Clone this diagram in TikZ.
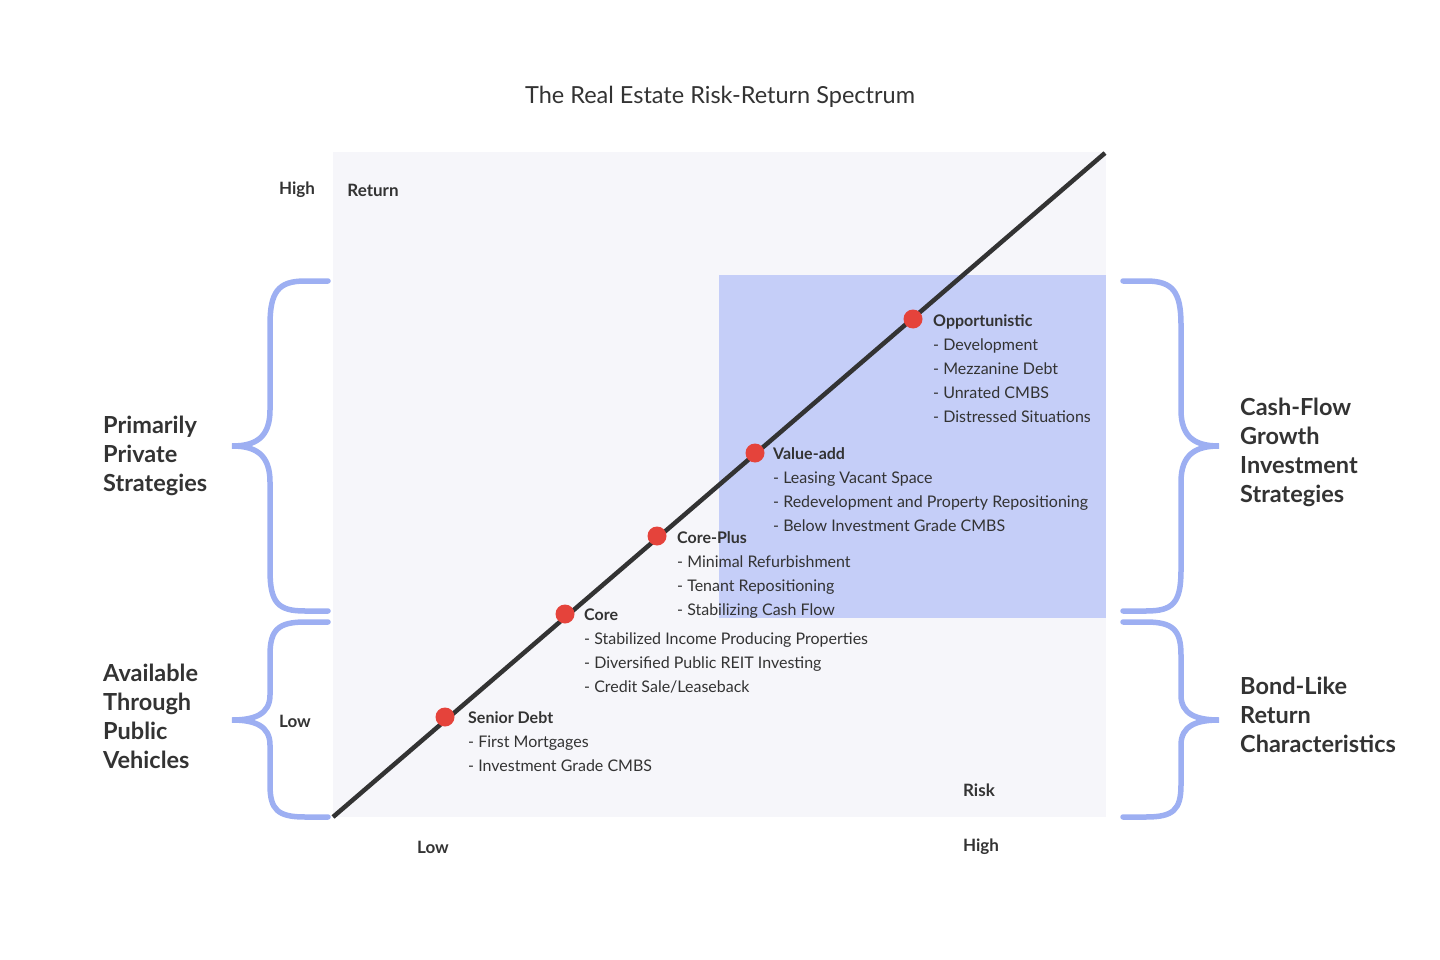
\documentclass[tikz,border=0pt]{standalone}
\usepackage{fontspec}
\setmainfont{Lato}
\definecolor{bgc}{HTML}{F6F6FA}
\definecolor{blk}{HTML}{C5CEF8}
\definecolor{brc}{HTML}{9DAFF2}
\definecolor{txt}{HTML}{333333}
\definecolor{dotc}{HTML}{E5433B}
\tikzset{
 dot/.style={circle,fill=dotc,minimum size=19pt,inner sep=0},
 lst/.style={anchor=north west,align=left,inner sep=0,font=\fontsize{16}{24}\selectfont,text=txt},
 ax/.style={inner sep=0,font=\fontsize{17}{20}\selectfont\bfseries,text=txt},
 side/.style={anchor=north west,align=left,inner sep=0,font=\fontsize{23.5}{29}\selectfont\bfseries,text=txt},
 brace/.style={draw=brc,line width=5.5pt,line cap=round}
}
\begin{document}
\begin{tikzpicture}[x=1pt,y=-1pt]
\useasboundingbox (0,0) rectangle (1440,960);
\node[inner sep=0,font=\fontsize{23.5}{26}\selectfont,text=txt] (title) at (720,97) {The Real Estate Risk-Return Spectrum};
\fill[bgc] (333,152) rectangle (1106,817);
\fill[blk] (719,275) rectangle (1106,618);
\coordinate (s) at (333,817);
\coordinate (e) at (1105,153);
\draw[txt,line width=4.5pt] (s) -- (e);
\node[dot] (d1) at (445,717) {};
\node[dot] (d2) at (565,614) {};
\node[dot] (d3) at (657,536) {};
\node[dot] (d4) at (755,453) {};
\node[dot] (d5) at (913,319) {};
\node[lst] (l1) at (468,711) {\textbf{Senior Debt}\\- First Mortgages\\- Investment Grade CMBS};
\node[lst] (l2) at (584,609) {\textbf{Core}\\- Stabilized Income Producing Properties\\- Diversified Public REIT Investing\\- Credit Sale/Leaseback};
\node[lst] (l3) at (677,531) {\textbf{Core-Plus}\\- Minimal Refurbishment\\- Tenant Repositioning\\- Stabilizing Cash Flow};
\node[lst] (l4) at (773,447) {\textbf{Value-add}\\- Leasing Vacant Space\\- Redevelopment and Property Repositioning\\- Below Investment Grade CMBS};
\node[lst] (l5) at (933,314) {\textbf{Opportunistic}\\- Development\\- Mezzanine Debt\\- Unrated CMBS\\- Distressed Situations};
\node[ax] (a1) at (297,190) {High};
\node[ax] (a2) at (373,190) {Return};
\node[ax] (a3) at (295,721) {Low};
\node[ax] (a4) at (433,847) {Low};
\node[ax] (a5) at (981,847) {High};
\node[ax] (a6) at (979,790) {Risk};
% left braces
\draw[brace] (328,281) -- (305,281) .. controls (278,281) and (270,292) .. (270,325) -- (270,410) .. controls (270,438) and (255,446) .. (232,446) .. controls (255,446) and (270,454) .. (270,482) -- (270,570) .. controls (270,603) and (278,611) .. (305,611) -- (328,611);
\draw[brace] (328,622) -- (305,622) .. controls (278,622) and (270,630) .. (270,655) -- (270,695) .. controls (270,714) and (255,720) .. (232,720) .. controls (255,720) and (270,726) .. (270,745) -- (270,785) .. controls (270,810) and (278,817) .. (305,817) -- (328,817);
% right braces
\draw[brace] (1123,281) -- (1146,281) .. controls (1173,281) and (1181,292) .. (1181,325) -- (1181,410) .. controls (1181,438) and (1196,446) .. (1219,446) .. controls (1196,446) and (1181,454) .. (1181,482) -- (1181,570) .. controls (1181,603) and (1173,611) .. (1146,611) -- (1123,611);
\draw[brace] (1123,622) -- (1146,622) .. controls (1173,622) and (1181,630) .. (1181,655) -- (1181,695) .. controls (1181,714) and (1196,720) .. (1219,720) .. controls (1196,720) and (1181,726) .. (1181,745) -- (1181,785) .. controls (1181,810) and (1173,817) .. (1146,817) -- (1123,817);
\node[side] (s1) at (103,416) {Primarily\\Private\\Strategies};
\node[side] (s2) at (103,664) {Available\\Through\\Public\\Vehicles};
\node[side] (s3) at (1240,398) {Cash-Flow\\Growth\\Investment\\Strategies};
\node[side] (s4) at (1240,677) {Bond-Like\\Return\\Characteristics};
\end{tikzpicture}
\end{document}
